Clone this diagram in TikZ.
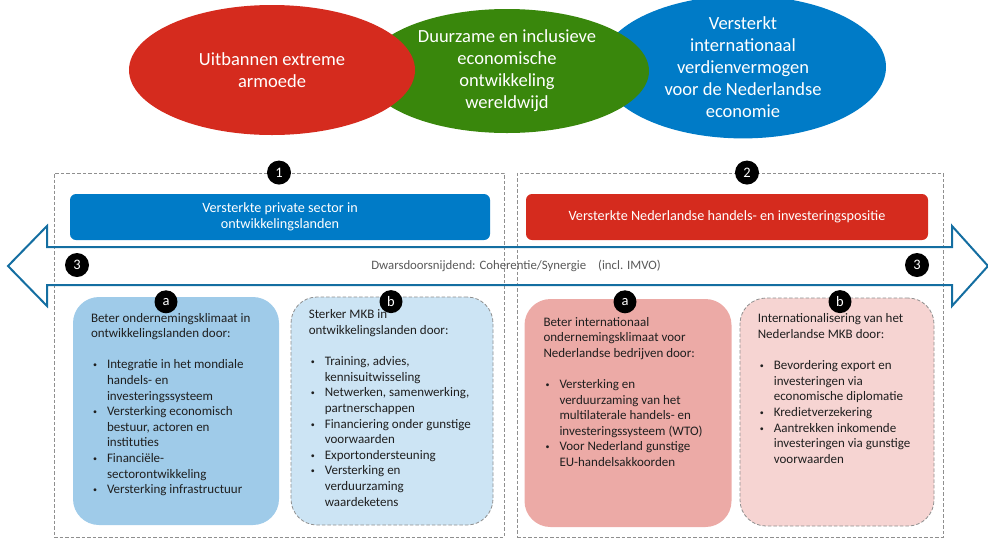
\documentclass[tikz,border=0pt]{standalone}
\usepackage{fontspec}
\setmainfont{Carlito}
\usetikzlibrary{positioning,shapes.geometric}

\newlength{\du}
\setlength{\du}{1pt}

\definecolor{doelrood}{rgb}{0.835000, 0.169000, 0.118000}
\definecolor{doelgroen}{rgb}{0.224000, 0.529000, 0.047000}
\definecolor{doelblauw}{rgb}{0.000000, 0.482000, 0.780000}
\definecolor{pijlblauw}{rgb}{0.080000, 0.430000, 0.630000}
\definecolor{kaderblauw}{rgb}{0.624000, 0.796000, 0.914000}
\definecolor{kaderlichtblauw}{rgb}{0.800000, 0.894000, 0.957000}
\definecolor{kaderrood}{rgb}{0.925000, 0.667000, 0.651000}
\definecolor{kaderlichtrood}{rgb}{0.965000, 0.831000, 0.824000}
\definecolor{stippelgrijs}{rgb}{0.560000, 0.560000, 0.560000}
\definecolor{tekstgrijs}{rgb}{0.350000, 0.350000, 0.350000}
\definecolor{tekstzwart}{rgb}{0.120000, 0.120000, 0.120000}

\newcommand{\punt}{\makebox[16\du][l]{\hspace{2\du}\raisebox{1\du}{\fontsize{8}{8}\selectfont\textbullet}}}
\newcommand{\inspring}{\hspace*{16\du}}

\tikzset{
  doel/.style={ellipse, minimum width=286\du, minimum height=130\du, inner sep=0pt,
    text=white, align=center, font=\fontsize{18.5}{22}\selectfont},
  stippel/.style={draw=stippelgrijs, dash pattern=on 3.5\du off 2\du, line width=0.9\du},
  pijler/.style={stippel, inner sep=0pt},
  nummer/.style={circle, fill=black, text=white, minimum size=24\du, inner sep=0pt,
    font=\fontsize{14.5}{14.5}\selectfont},
  balk/.style={rounded corners=6\du, text=white, align=center, inner sep=0pt,
    minimum height=46\du, font=\fontsize{14.2}{15.8}\selectfont},
  kader/.style={rounded corners=26\du, minimum height=228\du, inner sep=0pt},
  stippelkader/.style={kader, stippel, line width=0.8\du},
  lijst/.style={align=left, inner sep=0pt, text=tekstzwart,
    font=\fontsize{13}{15.6}\selectfont},
}

\begin{document}
\begin{tikzpicture}[x=1\du, y=-1\du]
\useasboundingbox (0,0) rectangle (988,539);

% doelen
\node[doel, fill=doelblauw] (verdienvermogen) at (743,67) {Versterkt\\internationaal\\verdienvermogen\\voor de Nederlandse\\economie};
\node[doel, fill=doelgroen, minimum width=284\du, minimum height=124\du] (ontwikkeling) at (507,71) {Duurzame en inclusieve\\economische\\ontwikkeling\\wereldwijd};
\node[doel, fill=doelrood] (armoede) at (272,70) {Uitbannen extreme\\armoede};

% pijlers
\node[pijler, minimum width=450\du, minimum height=364\du] (pijler1) at (279,355) {};
\node[pijler, minimum width=426\du, minimum height=364\du] (pijler2) at (730,355) {};
\node[nummer] (nr1) at (pijler1.north) {1};
\node[nummer] (nr2) at ([xshift=17\du]pijler2.north) {2};

\node[balk, fill=doelblauw, minimum width=420\du] (privatesector) at (280,217) {Versterkte private sector in\\ontwikkelingslanden};
\node[balk, fill=doelrood, minimum width=402\du] (handelspositie) at (727,217) {Versterkte Nederlandse handels- en investeringspositie};

% dwarsdoorsnijdend
\draw[pijlblauw, line width=2\du, line join=miter]
  (8,266) -- (47,226) -- (47,247) -- (952,247) -- (952,226) -- (988,266)
  -- (952,306) -- (952,285) -- (47,285) -- (47,306) -- cycle;
\node[text=tekstgrijs, font=\fontsize{12.8}{14}\selectfont] (coherentie) at (516,266) {Dwarsdoorsnijdend: Coherentie/Synergie\hspace{12\du}(incl. IMVO)};
\node[nummer] (nr3links) at (77,265) {3};
\node[nummer] (nr3rechts) at (917,265) {3};

% kaders pijler 1
\node[kader, fill=kaderblauw, minimum width=206\du] (klimaatOntw) at (176,411) {};
\node[stippelkader, fill=kaderlichtblauw, minimum width=202\du] (mkbOntw) at (392,411) {};
\node[nummer, minimum size=23\du] (nr1a) at ([xshift=-10\du, yshift=-5\du]klimaatOntw.north) {a};
\node[nummer, minimum size=23\du] (nr1b) at ([xshift=-1\du, yshift=-5\du]mkbOntw.north) {b};

\node[lijst, below right=16\du and 18\du of klimaatOntw.north west] (klimaatOntwTekst) {Beter ondernemingsklimaat in\\ontwikkelingslanden door:\\[15.6\du]
\punt Integratie in het mondiale\\\inspring handels- en\\\inspring investeringssysteem\\
\punt Versterking economisch\\\inspring bestuur, actoren en\\\inspring instituties\\
\punt Financiële-\\\inspring sectorontwikkeling\\
\punt Versterking infrastructuur};

\node[lijst, below right=13\du and 18\du of mkbOntw.north west] (mkbOntwTekst) {Sterker MKB in\\ontwikkelingslanden door:\\[15.6\du]
\punt Training, advies,\\\inspring kennisuitwisseling\\
\punt Netwerken, samenwerking,\\\inspring partnerschappen\\
\punt Financiering onder gunstige\\\inspring voorwaarden\\
\punt Exportondersteuning\\
\punt Versterking en\\\inspring verduurzaming\\\inspring waardeketens};

% kaders pijler 2
\node[kader, fill=kaderrood, minimum width=207\du] (klimaatNL) at (628,413) {};
\node[stippelkader, fill=kaderlichtrood, minimum width=194\du] (mkbNL) at (837,412) {};
\node[nummer, minimum size=23\du] (nr2a) at ([xshift=-3\du, yshift=-3\du]klimaatNL.north) {a};
\node[nummer, minimum size=23\du] (nr2b) at ([xshift=3\du, yshift=-4\du]mkbNL.north) {b};

\node[lijst, below right=18\du and 19\du of klimaatNL.north west] (klimaatNLTekst) {Beter internationaal\\ondernemingsklimaat voor\\Nederlandse bedrijven door:\\[15.6\du]
\punt Versterking en\\\inspring verduurzaming van het\\\inspring multilaterale handels- en\\\inspring investeringssysteem (WTO)\\
\punt Voor Nederland gunstige\\\inspring EU-handelsakkoorden};

\node[lijst, below right=16\du and 18\du of mkbNL.north west] (mkbNLTekst) {Internationalisering van het\\Nederlandse MKB door:\\[15.6\du]
\punt Bevordering export en\\\inspring investeringen via\\\inspring economische diplomatie\\
\punt Kredietverzekering\\
\punt Aantrekken inkomende\\\inspring investeringen via gunstige\\\inspring voorwaarden};
\end{tikzpicture}
\end{document}
